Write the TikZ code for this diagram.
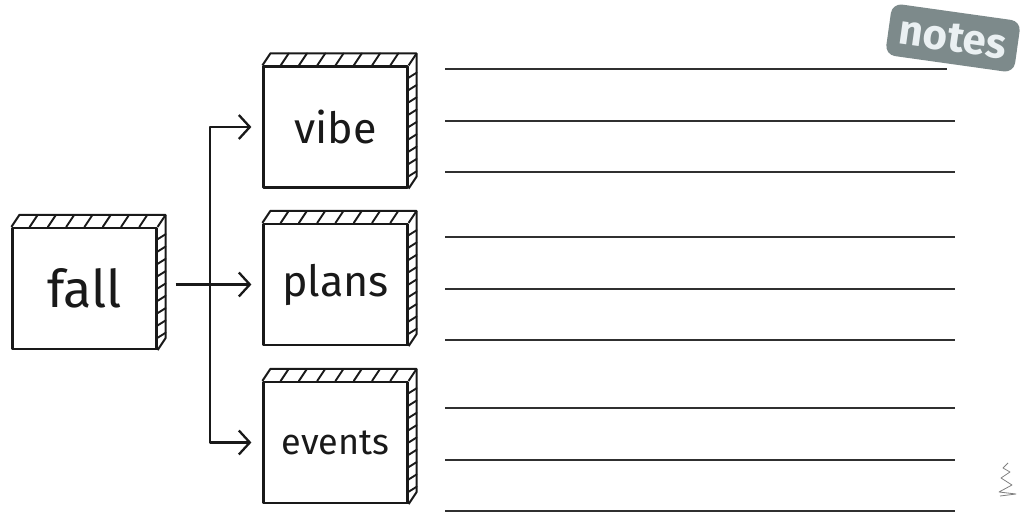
\documentclass[tikz,border=0pt]{standalone}
\usepackage{fontspec}
\setmainfont{Fira Sans}
\usetikzlibrary{arrows.meta,calc}
\definecolor{badgefill}{RGB}{125,138,139}
\definecolor{badgetext}{RGB}{234,240,242}
\definecolor{ink}{RGB}{25,25,25}
\newcommand\sketchbox[1]{%
  \draw[face] (#1.north west) -- ++(8,-12) -- ($(#1.north east)+(8,-12)$) -- ($(#1.south east)+(8,-12)$) -- (#1.south east);
  \draw[face] (#1.north east) -- ++(8,-12);
  \foreach \i in {1,...,7} \draw[hatch] ($(#1.north west)!{\i/8}!(#1.north east)$) -- ++(8,-12);
  \foreach \i in {1,...,9} \draw[hatch] ($(#1.north east)!{\i/10}!(#1.south east)$) -- ++(8,-5);
}
\begin{document}
\begin{tikzpicture}[x=1pt,y=-1pt,
  box/.style={draw=ink, line width=2.2pt, fill=white, inner sep=0pt, line join=round,
              minimum width=144pt, minimum height=121pt, text=ink},
  face/.style={draw=ink, line width=2pt, line join=round},
  hatch/.style={draw=ink, line width=1.9pt, line cap=round},
  arr/.style={draw=ink, line width=2.3pt, line join=round, -{Straight Barb[length=11pt,width=24pt]}},
  arrs/.style={draw=ink, line width=2.3pt, line join=round,
               {Straight Barb[length=11pt,width=24pt]}-{Straight Barb[length=11pt,width=24pt]}},
  rule/.style={draw=ink!90, line width=1.4pt},
  badge/.style={fill=badgefill, rounded corners=10pt, text=badgetext, inner sep=0pt,
                minimum width=130pt, minimum height=52pt, font=\fontsize{42}{42}\selectfont\bfseries}
]
\useasboundingbox (0,0) rectangle (1021,514);

% boxes
\node[box, font=\fontsize{52}{52}\selectfont] (fall) at (84.5,288.5) {fall};
\node[box, font=\fontsize{43}{43}\selectfont] (vibe) at (335.5,127) {vibe};
\node[box, font=\fontsize{43}{43}\selectfont] (plans) at (335.5,284.5) {plans};
\node[box, font=\fontsize{36}{36}\selectfont] (events) at (335.5,442.5) {events};
\sketchbox{fall}
\sketchbox{vibe}
\sketchbox{plans}
\sketchbox{events}

% connectors
\coordinate (trunk) at (210,0);
\draw[arr] ($(fall.east |- plans.west)+(18,0)$) -- ($(plans.west)+(-11,0)$);
\draw[arrs] ($(vibe.west)+(-11,0)$) -- (trunk |- vibe.west) -- (trunk |- events.west) -- ($(events.west)+(-11,0)$);

% note lines
\foreach \y in {121,172,237,289,340,408,460,511}
  \draw[rule] (445,\y) -- (955,\y);
\draw[rule] (445,69) -- (947,69);

% notes badge
\node[badge, rotate=-8] (notes) at (953,38) {notes};

% small squiggle
\draw[gray, line width=0.8pt, line join=round]
  (1008,463) -- (1003,468) -- (1010,472) -- (1001,478) -- (1012,485) -- (999,492) -- (1016,494) -- (1000,496);
\end{tikzpicture}
\end{document}
